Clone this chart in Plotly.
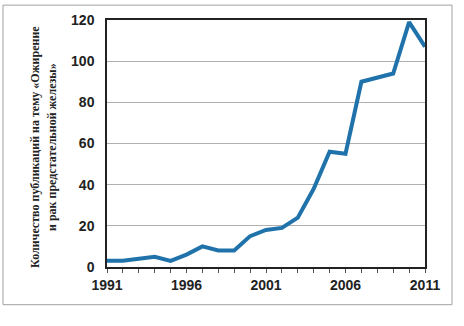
import plotly.graph_objects as go

# Publications per year on "obesity and prostate cancer"
years = list(range(1991, 2012))
publications = [3, 3, 4, 5, 3, 6, 10, 8, 8, 15, 18, 19, 24, 38, 56, 55, 90, 92, 94, 119, 107]
x_labels = ["1991", "1996", "2001", "2006", "2011"]
y_title_lines = ["Количество публикаций на тему «Ожирение",
                 "и рак предстательной железы»"]

W, H = 464, 326
L, R, T, B = 107, 39, 18, 59
pw, ph = W - L - R, H - T - B

tick_text = [str(y) if str(y) in x_labels else "" for y in years]

fig = go.Figure()
fig.add_trace(go.Scatter(
    x=years, y=publications, mode="lines",
    line=dict(color="#1f73aa", width=4),
    cliponaxis=False, showlegend=False,
))

tick_font = dict(family="Liberation Sans, Arial, sans-serif", size=14, color="#222222")

# two-line rotated axis title, one annotation per line
title_x = [35, 52]
annotations = [dict(
    text=txt, textangle=-90, showarrow=False,
    xref="paper", yref="paper",
    x=(xp - L) / pw, y=(H - B - 146) / ph,
    xanchor="center", yanchor="middle",
    font=dict(family="Liberation Serif, Times New Roman, serif", size=12,
              color="#222222", weight="bold"),
) for txt, xp in zip(y_title_lines, title_x)]

fig.update_layout(
    width=W, height=H,
    margin=dict(l=L, r=R, t=T, b=B),
    paper_bgcolor="white", plot_bgcolor="white",
    xaxis=dict(
        range=[1991, 2011], tickmode="array", tickvals=years, ticktext=tick_text,
        ticks="outside", ticklen=4, tickcolor="#555555", tickwidth=1,
        showgrid=False, zeroline=False,
        showline=True, linecolor="#222222", linewidth=1.5, mirror=True,
        tickfont=dict(tick_font, weight="bold"),
    ),
    yaxis=dict(
        range=[0, 120], tickvals=[0, 20, 40, 60, 80, 100, 120],
        ticks="", showgrid=True, gridcolor="#b0b0b0", gridwidth=1,
        zeroline=False, showline=True, linecolor="#222222", linewidth=1.5, mirror=True,
        tickfont=dict(tick_font, weight="bold"), ticklabelstandoff=8,
    ),
    shapes=[dict(
        type="rect", xref="paper", yref="paper",
        x0=(3 - L) / pw, x1=(452 - L) / pw,
        y0=(H - B - 305) / ph, y1=(H - B - 3) / ph,
        line=dict(color="#a0a0a0", width=1), fillcolor="rgba(0,0,0,0)", layer="below",
    )],
    annotations=annotations,
)

fig.write_html("out.html")
